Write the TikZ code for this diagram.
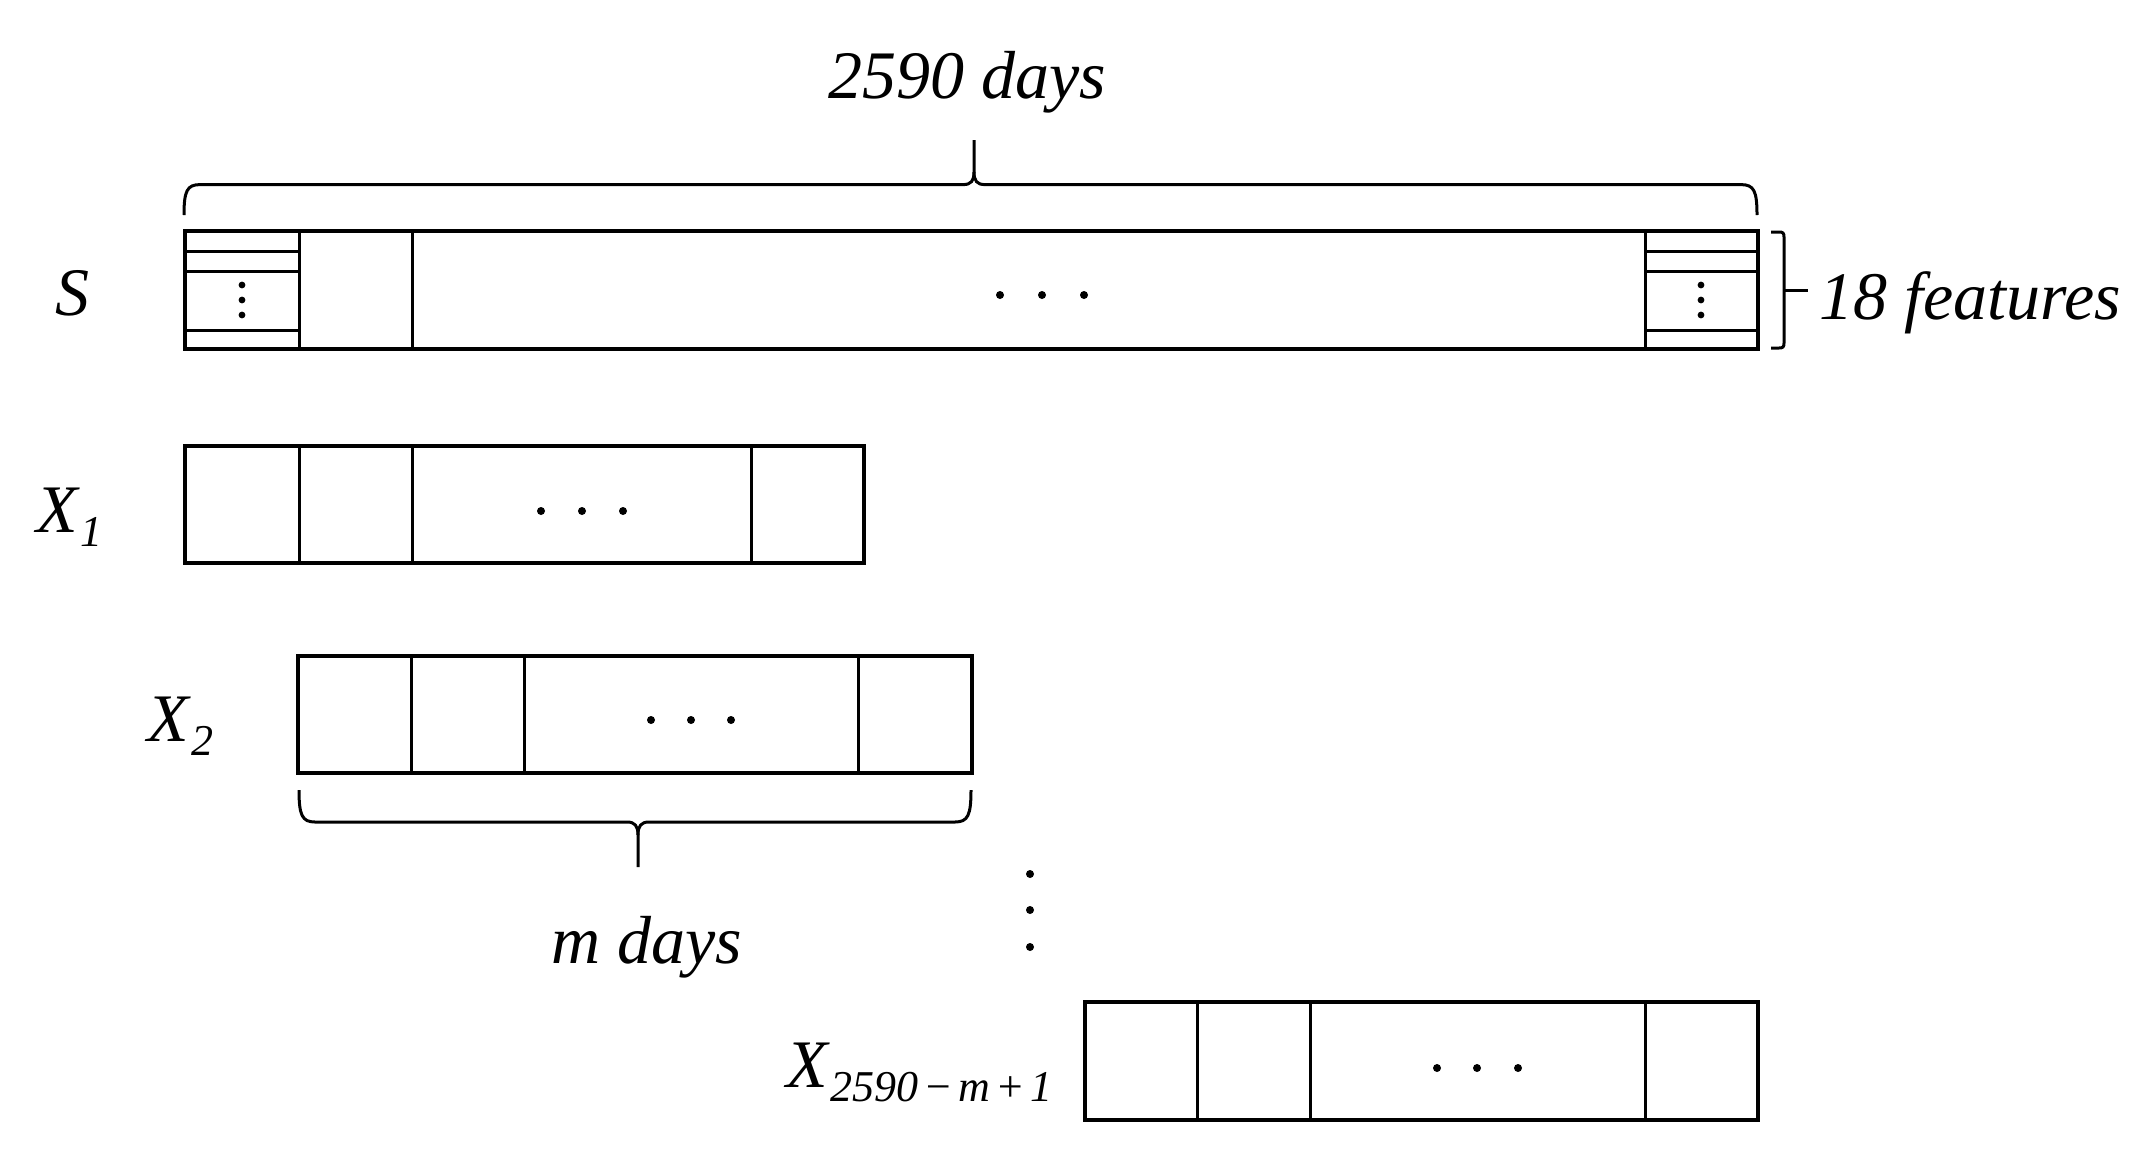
\documentclass[tikz,border=0pt]{standalone}
\usepackage{fontspec}
\setmainfont{Liberation Serif}
\newcommand{\subtxt}[1]{\kern1.5pt\raisebox{-7pt}{\fontsize{22}{26}\selectfont #1}}
\begin{document}
\begin{tikzpicture}[x=0.5pt,y=-0.5pt,
  outerline/.style={line width=1.7pt},
  innerline/.style={line width=1.5pt},
  braceline/.style={line width=1.5pt},
  lbl/.style={font=\fontsize{34}{40}\selectfont\itshape, inner sep=0pt},
  bigdot/.style={fill=black},
]
\useasboundingbox (0,0) rectangle (2156,1152);

% ---------- S row ----------
\draw[outerline] (185,231) rectangle (1758,349);
\foreach \x in {299,412,1645} \draw[innerline] (\x,231) -- (\x,349);
\foreach \x/\xa in {185/299,1645/1758} {
  \foreach \y in {251,271.5,330} \draw[innerline] (\x,\y) -- (\xa,\y);
}
\foreach \y in {285,300,315} {
  \fill (242,\y) circle[radius=1.7pt];
  \fill (1701,\y) circle[radius=1.7pt];
}
\foreach \x in {1000,1042,1084} \fill (\x,295) circle[radius=2pt];

% ---------- X1 row ----------
\draw[outerline] (185,446) rectangle (864,563);
\foreach \x in {299,412,751} \draw[innerline] (\x,446) -- (\x,563);
\foreach \x in {541,582,623} \fill (\x,511) circle[radius=2pt];

% ---------- X2 row ----------
\draw[outerline] (298,656) rectangle (972,773);
\foreach \x in {411,524,858} \draw[innerline] (\x,656) -- (\x,773);
\foreach \x in {651,691,731} \fill (\x,720) circle[radius=2pt];

% ---------- last row ----------
\draw[outerline] (1085,1002) rectangle (1758,1120);
\foreach \x in {1197,1310,1645} \draw[innerline] (\x,1002) -- (\x,1120);
\foreach \x in {1437,1477,1518} \fill (\x,1068) circle[radius=2pt];

% vertical dots between rows
\foreach \y in {874,910,947} \fill (1030,\y) circle[radius=2pt];

% ---------- braces ----------
% top brace (2590 days)
\draw[braceline] (184,215) .. controls (184,191) and (187,184.6) .. (200,184.6)
  -- (963,184.6) .. controls (971,184.6) and (974,181) .. (974,172) -- (974,140);
\draw[braceline] (974,172) .. controls (974,181) and (977,184.6) .. (985,184.6)
  -- (1741,184.6) .. controls (1754,184.6) and (1757,191) .. (1757,215);
\coordinate (toptip) at (974,140);

% bottom brace (m days)
\draw[braceline] (299,790) .. controls (299,815) and (302,822) .. (315,822)
  -- (627,822) .. controls (635,822) and (638,826) .. (638,835) -- (638,867);
\draw[braceline] (638,835) .. controls (638,826) and (641,822) .. (649,822)
  -- (955,822) .. controls (968,822) and (971,815) .. (971,790);
\coordinate (mtip) at (638,867);

% right bracket (18 features)
\draw[braceline] (1771,232) -- (1779,232) .. controls (1783,232) and (1784,233) .. (1784,237)
  -- (1784,343) .. controls (1784,347) and (1783,348) .. (1779,348) -- (1771,348);
\draw[braceline] (1784,290) -- (1808,290);
\coordinate (ftip) at (1808,290);

% ---------- labels ----------
\node[lbl, anchor=base] (days) at (967,98) {2590 days};
\node[lbl, anchor=base west] (feat) at (1819,319) {18 features};
\node[lbl, anchor=base] (lS) at (72,315) {S};
\node[lbl, anchor=base west] (lX1) at (36,532) {X\subtxt{1}};
\node[lbl, anchor=base west] (lX2) at (147,741) {X\subtxt{2}};
\node[lbl, anchor=base west] (lXl) at (786,1087) {X\subtxt{2590\kern2.5pt−\kern2.5pt m\kern2.5pt+\kern2.5pt1}};
\node[lbl, anchor=base west] (mdays) at (551,963) {m days};
\end{tikzpicture}
\end{document}
